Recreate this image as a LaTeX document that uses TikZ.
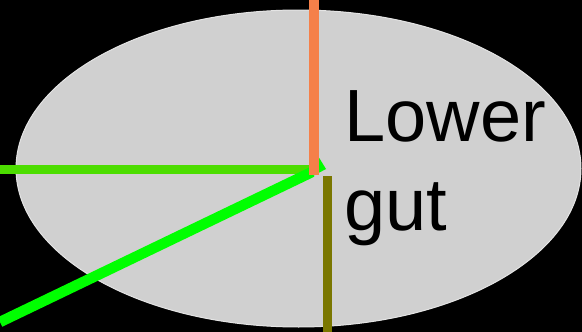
\documentclass[tikz,border=0pt]{standalone}
\usepackage{fontspec}
\setmainfont{Liberation Sans}
\usepackage{tikz}
\usetikzlibrary{shapes.geometric}

\definecolor{gutfill}{HTML}{D0D0D0}
\definecolor{gutrim}{HTML}{E4E4E4}
\definecolor{orangeln}{HTML}{F58049}
\definecolor{oliveln}{HTML}{7A7700}
\definecolor{limeln}{HTML}{4CDD00}
\definecolor{brightln}{HTML}{00FF00}

\begin{document}
\begin{tikzpicture}[x=1pt,y=-1pt,
  wire/.style={line width=10pt}]

\useasboundingbox (0,0) rectangle (582,332);
\fill[black] (0,0) rectangle (582,332);

% organo
\node[ellipse,fill=gutfill,draw=gutrim,line width=1pt,
  minimum width=565pt,minimum height=317pt,inner sep=0pt] (gut) at (298.5,168.5) {};
\node[anchor=base west,align=left,inner sep=0pt,
  font=\fontsize{74}{88.3}\selectfont] (label) at (344.5,230) {Lower\\gut};

% punti di arrivo
\coordinate (hub) at (314,169.5);
\coordinate (topin) at (314,0);
\coordinate (leftin) at (0,169.5);
\coordinate (diagin) at (0,322);
\coordinate (diagend) at (312,172);
\coordinate (tip) at (326,169);
\coordinate (oltop) at (327.5,176);
\coordinate (olbot) at (327.5,332);

% linee
\draw[wire,line width=9.5pt,limeln] (leftin) -- (hub);
\draw[wire,line width=10.5pt,brightln] (diagin) -- (diagend);
\fill[brightln] (tip) -- (318,156) -- (311,177) -- cycle;
\draw[wire,orangeln] (topin) -- (314,175);
\draw[wire,line width=9.5pt,oliveln] (oltop) -- (olbot);

\end{tikzpicture}
\end{document}
